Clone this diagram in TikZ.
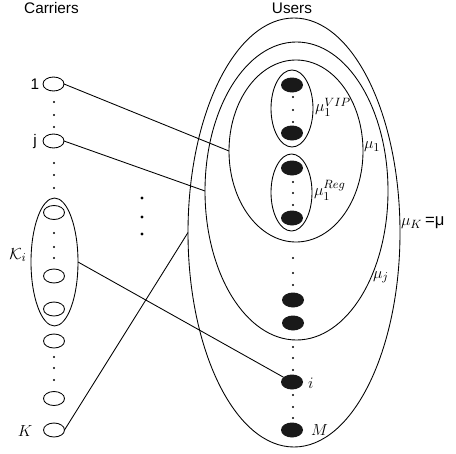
\documentclass[tikz,border=0pt]{standalone}
\usepackage{fontspec}
\setmainfont{Liberation Sans}
\usetikzlibrary{shapes.geometric}
\begin{document}
\begin{tikzpicture}[x=0.75pt,y=-0.75pt,
  every node/.style={inner sep=0pt, outer sep=0pt},
  ring/.style={draw, ellipse, line width=0.65pt},
  carrier/.style={draw, ellipse, line width=0.65pt, minimum width=21*0.75pt, minimum height=14*0.75pt},
  user/.style={fill=black!90, ellipse, minimum width=22*0.75pt, minimum height=15*0.75pt},
  link/.style={line width=0.65pt},
  lab/.style={font=\fontsize{11.5}{13}\selectfont},
  mlab/.style={font=\fontsize{12.5}{14}\selectfont, anchor=west},
]
\useasboundingbox (0,0) rectangle (456,453);

% titles
\node[lab] (tc) at (51.5,8.5) {Carriers};
\node[lab] (tu) at (292,8) {Users};

% user sets
\node[ring, minimum width=212*0.75pt, minimum height=429*0.75pt] (muK) at (294,232.5) {};
\node[ring, minimum width=183*0.75pt, minimum height=298*0.75pt] (muj) at (296.5,191) {};
\node[ring, minimum width=134*0.75pt, minimum height=182*0.75pt] (mu1) at (296,151) {};
\node[ring, minimum width=42*0.75pt, minimum height=77*0.75pt] (vip) at (292,108.5) {};
\node[ring, minimum width=41*0.75pt, minimum height=77*0.75pt] (reg) at (291.5,192.5) {};

% users
\node[user] (u1) at (292,85) {};
\node[user] (u2) at (292,133) {};
\node[user] (u3) at (292,168) {};
\node[user] (u4) at (292,218) {};
\node[user] (u5) at (293,300) {};
\node[user] (u6) at (293,323) {};
\node[user] (ui) at (292,382) {};
\node[user] (uM) at (292,430) {};

% carriers
\node[ring, minimum width=47*0.75pt, minimum height=128*0.75pt] (Ki) at (54.5,262) {};
\node[carrier] (c1) at (53.5,84) {};
\node[carrier] (cj) at (53.5,141) {};
\node[carrier] (ck1) at (54,212.5) {};
\node[carrier] (ck2) at (54,276) {};
\node[carrier] (c3) at (54,309) {};
\node[carrier] (c4) at (54,341) {};
\node[carrier] (c5) at (54,398.5) {};
\node[carrier] (cK) at (54,430) {};

% dots
\foreach \y in {102,115,127,163,175,188,233,247,258,357,368,380}
  \fill (54,\y) circle (1.1);
\foreach \y in {97,110,122,182,193,205,258,273,285,347,358,370,395,407,418}
  \fill (293,\y) circle (1.1);
\foreach \y in {198,217,234}
  \fill (142,\y) circle (1.6);

% labels
\node[lab] (l1) at (35,84) {1};
\node[lab] (lj) at (35,141.5) {j};
\node[font=\fontsize{12}{14}\selectfont] (lK) at (25,431) {$K$};
\node[font=\fontsize{13}{15}\selectfont] (lKi) at (18,255) {$\mathcal{K}_i$};
\node[mlab] (li) at (308,383) {$i$};
\node[mlab] (lM) at (311,430) {$M$};
\node[mlab] (lvip) at (315,107) {$\mu_1^{VIP}$};
\node[mlab] (lreg) at (314,190) {$\mu_1^{Reg}$};
\node[mlab] (lmu1) at (364,147) {$\mu_1$};
\node[mlab] (lmuj) at (373,277) {$\mu_j$};
\node[mlab] (lmuK) at (401,223) {$\mu_K$\,=μ};

% links
\draw[link] (c1.east) -- (mu1.west);
\draw[link] (cj.east) -- (muj.west);
\draw[link] (Ki.east) -- (ui);
\draw[link] (cK.east) -- (muK.west);
\end{tikzpicture}
\end{document}
